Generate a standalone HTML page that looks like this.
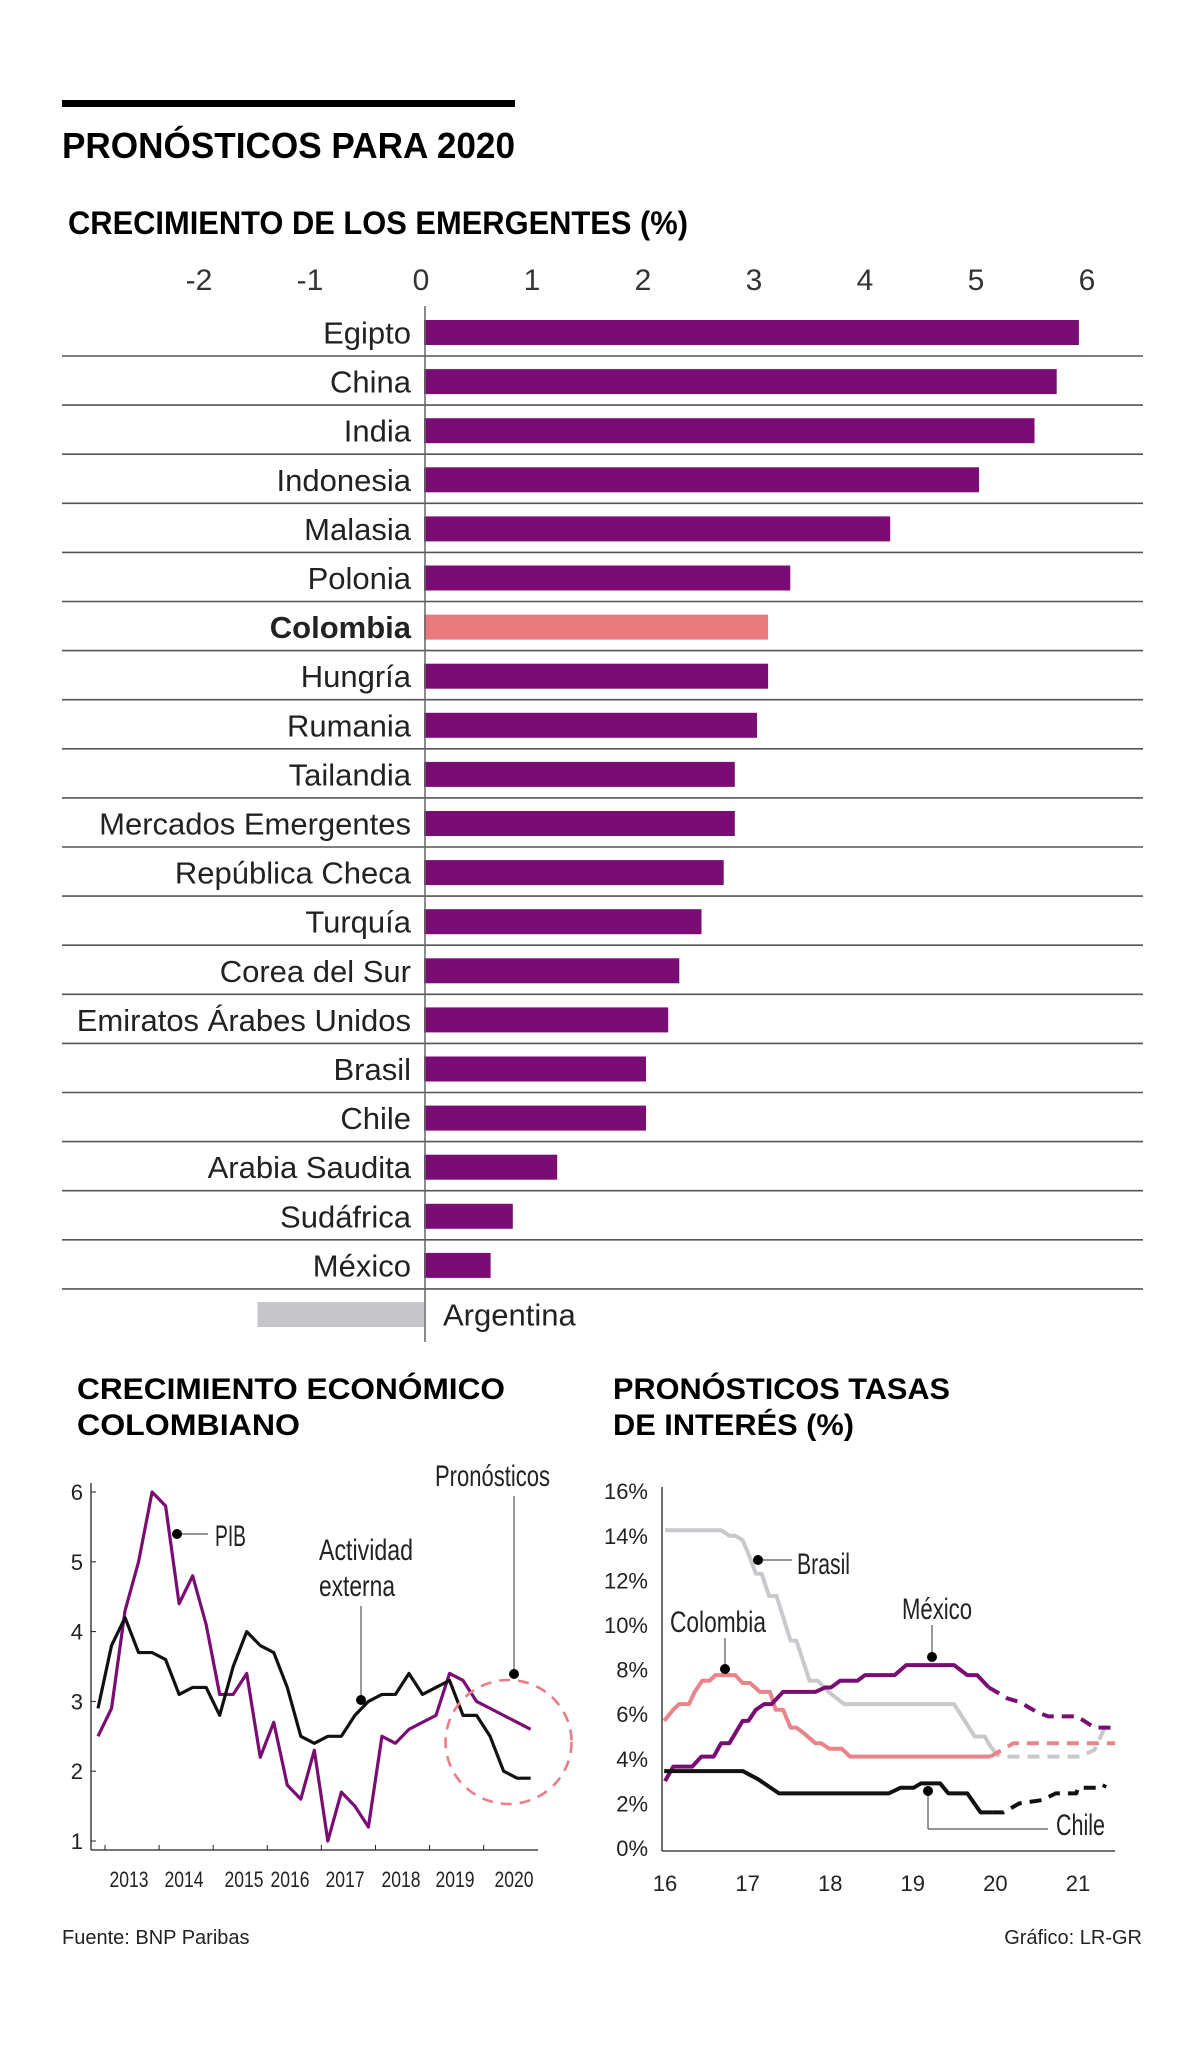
<!DOCTYPE html>
<html><head><meta charset="utf-8">
<style>
html,body{margin:0;padding:0;background:#fff;}
svg{display:block;}
text{font-family:"Liberation Sans",sans-serif;}
</style></head>
<body>
<svg id="root" xmlns="http://www.w3.org/2000/svg" width="1200" height="2047" viewBox="0 0 1200 2047">
<rect x="0" y="0" width="1200" height="2047" fill="#fff"/>
<rect x="62" y="100" width="453" height="7" fill="#000"/>
<text x="62" y="158" font-size="36" font-weight="bold" textLength="453" lengthAdjust="spacingAndGlyphs" fill="#000">PRONÓSTICOS PARA 2020</text>
<text x="68" y="234" font-size="32" font-weight="bold" textLength="620" lengthAdjust="spacingAndGlyphs" fill="#000">CRECIMIENTO DE LOS EMERGENTES (%)</text>
<g id="bars"></g>

<text x="77" y="1399" font-size="30" font-weight="bold" textLength="428" lengthAdjust="spacingAndGlyphs">CRECIMIENTO ECONÓMICO</text>
<text x="77" y="1435" font-size="30" font-weight="bold" textLength="223" lengthAdjust="spacingAndGlyphs">COLOMBIANO</text>
<g id="gdp"></g>

<text x="613" y="1399" font-size="30" font-weight="bold" textLength="337" lengthAdjust="spacingAndGlyphs">PRONÓSTICOS TASAS</text>
<text x="613" y="1435" font-size="30" font-weight="bold" textLength="241" lengthAdjust="spacingAndGlyphs">DE INTERÉS (%)</text>
<g id="rates"></g>

<text x="62" y="1944" font-size="20" fill="#222">Fuente: BNP Paribas</text>
<text x="1142" y="1944" font-size="20" fill="#222" text-anchor="end">Gráfico: LR-GR</text>
</svg>
<script>
// ===== Bar chart data =====
const countries = ["Egipto","China","India","Indonesia","Malasia","Polonia","Colombia","Hungría","Rumania","Tailandia","Mercados Emergentes","República Checa","Turquía","Corea del Sur","Emiratos Árabes Unidos","Brasil","Chile","Arabia Saudita","Sudáfrica","México","Argentina"];
const growth = [5.9,5.7,5.5,5.0,4.2,3.3,3.1,3.1,3.0,2.8,2.8,2.7,2.5,2.3,2.2,2.0,2.0,1.2,0.8,0.6,-1.5];
const barTicks = [-2,-1,0,1,2,3,4,5,6];

// ===== GDP chart data (quarterly from Q4 2012) =====
const gdpPIB = [2.5,2.9,4.3,5.0,6.0,5.8,4.4,4.8,4.1,3.1,3.1,3.4,2.2,2.7,1.8,1.6,2.3,1.0,1.7,1.5,1.2,2.5,2.4,2.6,2.7,2.8,3.4,3.3,3.0,2.9,2.8,2.7,2.6];
const gdpExt = [2.9,3.8,4.2,3.7,3.7,3.6,3.1,3.2,3.2,2.8,3.5,4.0,3.8,3.7,3.2,2.5,2.4,2.5,2.5,2.8,3.0,3.1,3.1,3.4,3.1,3.2,3.3,2.8,2.8,2.5,2.0,1.9,1.9];
const gdpYTicks = [1,2,3,4,5,6];
const gdpYears = ["2013","2014","2015","2016","2017","2018","2019","2020"];
const gdpForecastStart = 28;

// ===== Rates chart data (t in years since 2000, value %) =====
const brasilT = [16.0,16.68,16.78,16.85,16.94,17.01,17.1,17.17,17.26,17.35,17.52,17.59,17.75,17.85,17.98,18.17,19.5,19.75,19.87,19.95];
const brasilV = [14.25,14.25,14.0,14.0,13.8,13.2,12.3,12.3,11.3,11.3,9.3,9.3,7.5,7.5,7.0,6.45,6.45,5.0,5.0,4.5];
const brasilFT = [19.95,20.05,21.03,21.2,21.35];
const brasilFV = [4.5,4.1,4.1,4.4,5.6];
const colT = [15.99,16.1,16.17,16.29,16.36,16.45,16.54,16.61,16.85,16.94,17.03,17.15,17.27,17.34,17.43,17.52,17.59,17.68,17.82,17.89,17.99,18.14,18.24,19.94];
const colV = [5.7,6.2,6.45,6.45,7.0,7.5,7.5,7.75,7.75,7.4,7.4,7.0,7.0,6.2,6.2,5.4,5.4,5.15,4.7,4.7,4.45,4.45,4.1,4.1];
const colFT = [19.94,20.22,21.45];
const colFV = [4.1,4.7,4.7];
const mexT = [16.0,16.1,16.33,16.44,16.59,16.68,16.78,16.94,17.01,17.1,17.2,17.29,17.43,17.82,17.94,18.01,18.12,18.33,18.42,18.78,18.92,19.5,19.66,19.78,19.92];
const mexV = [3.0,3.65,3.65,4.1,4.1,4.7,4.7,5.7,5.7,6.2,6.45,6.45,7.0,7.0,7.2,7.2,7.5,7.5,7.75,7.75,8.2,8.2,7.75,7.75,7.2];
const mexFT = [19.92,20.15,20.29,20.5,20.64,20.99,21.2,21.45];
const mexFV = [7.2,6.7,6.55,6.1,5.9,5.9,5.4,5.4];
const chiT = [15.99,16.94,17.12,17.38,18.71,18.85,19.01,19.1,19.33,19.43,19.66,19.82,19.96];
const chiV = [3.45,3.45,3.1,2.45,2.45,2.7,2.7,2.9,2.9,2.45,2.45,1.6,1.6];
const chiFT = [19.96,20.1,20.29,20.57,20.73,20.98,21.0,21.31,21.33];
const chiFV = [1.6,1.6,2.0,2.15,2.45,2.45,2.7,2.7,2.85];
const rateYTicks = [0,2,4,6,8,10,12,14,16];
const rateXTicks = [16,17,18,19,20,21];

const NS = "http://www.w3.org/2000/svg";
function mk(tag, attrs, parent){
  const e = document.createElementNS(NS, tag);
  for (const k in attrs) e.setAttribute(k, attrs[k]);
  parent.appendChild(e);
  return e;
}
function tx(str, attrs, parent){
  const e = mk("text", attrs, parent);
  e.textContent = str;
  return e;
}

// ===== Bar chart =====
const bars = document.getElementById("bars");
const bx = v => 424 + v * 111;
const rowY = i => 332.5 + i * 49.1;
barTicks.forEach(t => {
  const e = tx(String(t), {x: bx(t) - 3, y: 290, "font-size": 30, "text-anchor": "middle", fill: "#333"}, bars);
  
  
});
countries.forEach((c, i) => {
  const v = growth[i];
  const cy = rowY(i);
  if (i < countries.length - 1) {
    const ln = mk("line", {x1: 62, x2: 1143, y1: cy + 23.5, y2: cy + 23.5, stroke: "#555", "stroke-width": 1.6}, bars);
    
    
  }
  let fill = "#790d74";
  if (c === "Colombia") fill = "#e87a80";
  if (v < 0) fill = "#c6c6ca";
  const x0 = Math.min(bx(0), bx(v)), w = Math.abs(bx(v) - bx(0));
  const r = mk("rect", {x: x0, y: cy - 12.5, width: w, height: 25, fill: fill}, bars);
  
  
  let lab;
  if (v < 0) {
    lab = tx(c, {x: bx(0) + 19, y: cy + 11, "font-size": 31, fill: "#222"}, bars);
  } else {
    lab = tx(c, {x: 411, y: cy + 11, "font-size": 31, "text-anchor": "end", fill: "#222", "font-weight": c === "Colombia" ? "bold" : "normal"}, bars);
  }
  
  
});
const bAxis = mk("line", {x1: 425, x2: 425, y1: 306, y2: 1342, stroke: "#666", "stroke-width": 1.5}, bars);



// ===== GDP chart =====
const gdp = document.getElementById("gdp");
const gx = i => 98 + i * 13.52;
const gy = v => 1841 - (v - 1) * 69.8;
const ga1 = mk("line", {x1: 91, x2: 91, y1: 1483, y2: 1850, stroke: "#222", "stroke-width": 1.3}, gdp);


const ga2 = mk("line", {x1: 91, x2: 538, y1: 1850, y2: 1850, stroke: "#222", "stroke-width": 1.3}, gdp);


gdpYTicks.forEach(t => {
  const tk = mk("line", {x1: 91, x2: 96, y1: gy(t), y2: gy(t), stroke: "#222", "stroke-width": 1}, gdp);
  
  
  const l = tx(String(t), {x: 83, y: gy(t) + 8, "font-size": 22, "text-anchor": "end", fill: "#222"}, gdp);
  
  
});
const yearLabelX = [129,184,244,290,345,401,455,514];
gdpYears.forEach((y, k) => {
  const tk = mk("line", {x1: 105 + k * 54.1, x2: 105 + k * 54.1, y1: 1850, y2: 1845, stroke: "#222", "stroke-width": 1}, gdp);
  
  
  const l = tx(y, {x: yearLabelX[k] - 19.5, y: 1887, "font-size": 22, textLength: 39, lengthAdjust: "spacingAndGlyphs", fill: "#222"}, gdp);
  
  
});
function poly(arrX, arrY, color, w, parent, name, dash){
  const pts = arrX.map((x, i) => x + "," + arrY[i]).join(" ");
  const a = {points: pts, fill: "none", stroke: color, "stroke-width": w, "stroke-linejoin": "round"};
  if (dash) a["stroke-dasharray"] = dash;
  const p = mk("polyline", a, parent);
  
  
  return p;
}
poly(gdpPIB.map((v, i) => gx(i)), gdpPIB.map(gy), "#790d74", 3.2, gdp, "pib-line");
poly(gdpExt.map((v, i) => gx(i)), gdpExt.map(gy), "#111", 3.2, gdp, "external-activity-line");
const circ = mk("ellipse", {cx: gx(gdpForecastStart) + 32, cy: 1742, rx: 63, ry: 62, fill: "none", stroke: "#ea7d85", "stroke-width": 2.6, "stroke-dasharray": "11 8"}, gdp);


function ann(parent, name, lines, dot){
  const g = mk("g", {}, parent);
  
  
  lines.forEach(l => mk("line", {x1: l[0], y1: l[1], x2: l[2], y2: l[3], stroke: "#555", "stroke-width": 1.2}, g));
  mk("circle", {cx: dot[0], cy: dot[1], r: 5, fill: "#000"}, g);
  return g;
}
ann(gdp, "pib-annotation", [[177, 1534, 208, 1534]], [177, 1534]);
tx("PIB", {x: 215, y: 1546, "font-size": 30, textLength: 31, lengthAdjust: "spacingAndGlyphs", fill: "#222"}, gdp);
ann(gdp, "activity-annotation", [[361, 1606, 361, 1700]], [361, 1700]);
tx("Actividad", {x: 319, y: 1560, "font-size": 30, textLength: 94, lengthAdjust: "spacingAndGlyphs", fill: "#222"}, gdp);
tx("externa", {x: 319, y: 1596, "font-size": 30, textLength: 76, lengthAdjust: "spacingAndGlyphs", fill: "#222"}, gdp);
ann(gdp, "forecast-annotation", [[514, 1496, 514, 1674]], [514, 1674]);
tx("Pronósticos", {x: 435, y: 1486, "font-size": 30, textLength: 115, lengthAdjust: "spacingAndGlyphs", fill: "#222"}, gdp);

// ===== Rates chart =====
const rates = document.getElementById("rates");
const rx = t => 665 + (t - 16) * 82.6;
const ry = v => 1848 - v * 22.3;
const ra1 = mk("line", {x1: 662, x2: 662, y1: 1487, y2: 1851, stroke: "#222", "stroke-width": 1.3}, rates);


const ra2 = mk("line", {x1: 662, x2: 1115, y1: 1851, y2: 1851, stroke: "#222", "stroke-width": 1.3}, rates);


rateYTicks.forEach(t => {
  const l = tx(t + "%", {x: 648, y: ry(t) + 8, "font-size": 22, "text-anchor": "end", fill: "#222"}, rates);
  
  
});
rateXTicks.forEach(t => {
  const l = tx(String(t), {x: rx(t), y: 1891, "font-size": 22, "text-anchor": "middle", fill: "#222"}, rates);
  
  
});
poly(brasilT.map(rx), brasilV.map(ry), "#c9c9cd", 4, rates, "brasil-line");
poly(brasilFT.map(rx), brasilFV.map(ry), "#c9c9cd", 4, rates, "brasil-forecast", "12 8");
poly(colT.map(rx), colV.map(ry), "#e8848a", 4, rates, "colombia-line");
poly(colFT.map(rx), colFV.map(ry), "#e8848a", 4, rates, "colombia-forecast", "12 8");
poly(mexT.map(rx), mexV.map(ry), "#790d74", 4, rates, "mexico-line");
poly(mexFT.map(rx), mexFV.map(ry), "#790d74", 4, rates, "mexico-forecast", "12 8");
poly(chiT.map(rx), chiV.map(ry), "#111", 4, rates, "chile-line");
poly(chiFT.map(rx), chiFV.map(ry), "#111", 4, rates, "chile-forecast", "12 8");

ann(rates, "brasil-annotation", [[758, 1560, 792, 1560]], [758, 1560]);
tx("Brasil", {x: 797, y: 1574, "font-size": 30, textLength: 53, lengthAdjust: "spacingAndGlyphs", fill: "#222"}, rates);
ann(rates, "colombia-annotation", [[725, 1638, 725, 1669]], [725, 1669]);
tx("Colombia", {x: 670, y: 1632, "font-size": 30, textLength: 96, lengthAdjust: "spacingAndGlyphs", fill: "#222"}, rates);
ann(rates, "mexico-annotation", [[932, 1625, 932, 1657]], [932, 1657]);
tx("México", {x: 902, y: 1619, "font-size": 30, textLength: 70, lengthAdjust: "spacingAndGlyphs", fill: "#222"}, rates);
ann(rates, "chile-annotation", [[928, 1791, 928, 1829], [928, 1829, 1048, 1829]], [928, 1791]);
tx("Chile", {x: 1056, y: 1835, "font-size": 30, textLength: 49, lengthAdjust: "spacingAndGlyphs", fill: "#222"}, rates);
</script>
</body></html>
